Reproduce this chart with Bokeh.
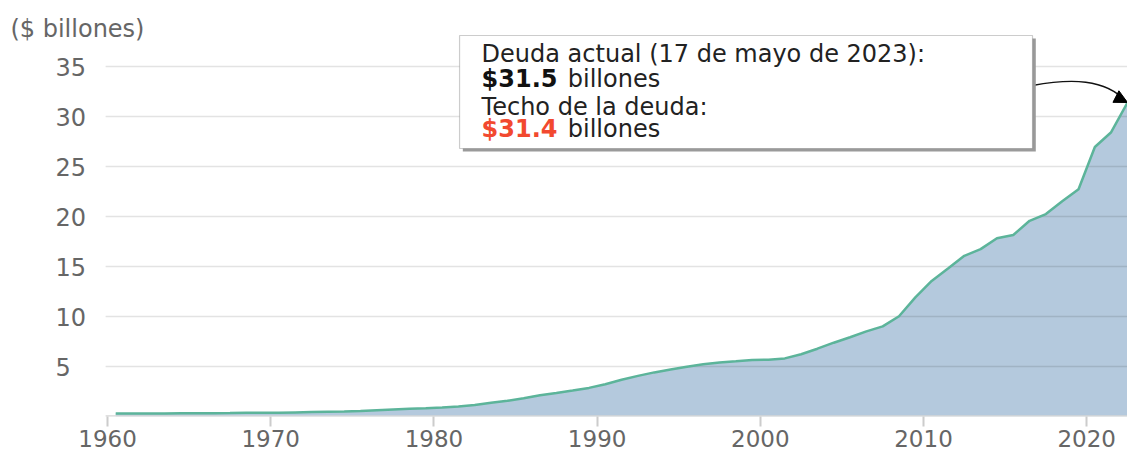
from bokeh.plotting import figure
from bokeh.models import (Range1d, FixedTicker, Label, BoxAnnotation, Arrow,
                          NormalHead, ColumnDataSource)
from bokeh.core.properties import value
from bokeh.embed import file_html
from bokeh.resources import INLINE

# ---------------- data ----------------
years = list(range(1960, 2023))
debt = [0.29, 0.29, 0.30, 0.31, 0.32, 0.32, 0.33, 0.34, 0.37, 0.37,
        0.38, 0.41, 0.44, 0.47, 0.49, 0.54, 0.63, 0.71, 0.78, 0.83,
        0.91, 1.00, 1.14, 1.37, 1.57, 1.82, 2.13, 2.35, 2.60, 2.86,
        3.23, 3.67, 4.06, 4.41, 4.69, 4.97, 5.22, 5.41, 5.53, 5.66,
        5.67, 5.81, 6.23, 6.78, 7.38, 7.93, 8.51, 9.01, 10.02, 11.91,
        13.56, 14.79, 16.07, 16.74, 17.82, 18.15, 19.57, 20.24, 21.52, 22.72,
        26.95, 28.43, 31.40]
y_ticks = [5, 10, 15, 20, 25, 30, 35]
x_ticks = [1960, 1970, 1980, 1990, 2000, 2010, 2020]
unit_label = "($ billones)"
note_title = "Deuda actual (17 de mayo de 2023):"
debt_value = "$31.5"
ceiling_title = "Techo de la deuda:"
ceiling_value = "$31.4"
unit_word = "billones"

# ---------------- style ----------------
FONT = "DejaVu Sans"
FILL = "#b4c9dd"
LINE = "#5cb49a"
GREY = "#666666"
RED = "#f2492f"

X0, X1 = 1953.44, 2022.5      # full canvas width is the frame
PLOT_LEFT = 1959.88           # where the chart area (grid) begins

x = [yr + 0.5 for yr in years]   # plotted at mid-year
src = ColumnDataSource(dict(x=x, debt=debt))

p = figure(width=1127, height=456, output_backend="svg", toolbar_location=None,
           x_range=Range1d(X0, X1), y_range=Range1d(0, 41.6),
           y_axis_location=None,
           min_border_left=0, min_border_right=0, min_border_top=0,
           min_border_bottom=40)
p.outline_line_color = None
p.background_fill_color = "white"
p.border_fill_color = "white"
p.xgrid.grid_line_color = None
p.ygrid.grid_line_color = None

# area and gridlines
p.varea(x="x", y1=0, y2="debt", source=src, fill_color=FILL)
n = len(y_ticks)
p.segment(x0=[PLOT_LEFT] * n, x1=[X1] * n, y0=y_ticks, y1=y_ticks,
          line_color="#000000", line_alpha=0.11, line_width=1.5)
p.segment(x0=[PLOT_LEFT], x1=[X1], y0=[0], y1=[0],
          line_color="#d6d6d6", line_width=2.5)
p.line(x="x", y="debt", source=src, line_color=LINE, line_width=2.5)

# y tick labels (left aligned, as in the original)
p.text(x=[1956.81] * n, y=y_ticks, text=[str(t) for t in y_ticks],
       text_align="left", text_baseline="middle",
       text_font=value(FONT), text_font_size="24px", text_color=GREY)

# x axis
p.xaxis.ticker = FixedTicker(ticks=x_ticks)
p.xaxis.axis_line_color = None
p.xaxis.major_tick_out = 10
p.xaxis.major_tick_in = 0
p.xaxis.major_tick_line_color = "#cccccc"
p.xaxis.major_tick_line_width = 2
p.xaxis.minor_tick_line_color = None
p.xaxis.major_label_standoff = 3
p.xaxis.major_label_text_font = FONT
p.xaxis.major_label_text_font_size = "23px"
p.xaxis.major_label_text_color = GREY

# unit label
p.add_layout(Label(x=1954.05, y=38.8, text=unit_label, text_baseline="middle",
                   text_font=FONT, text_font_size="24px", text_color=GREY))

# annotation box
bl, br, bt, bb = 1981.57, 2016.68, 38.1, 26.8
p.add_layout(BoxAnnotation(left=bl + 0.2, right=br + 0.2, top=bt - 0.3, bottom=bb - 0.3,
                           fill_color="#9a9a9a", fill_alpha=1, line_color=None))
p.add_layout(BoxAnnotation(left=bl, right=br, top=bt, bottom=bb,
                           fill_color="white", fill_alpha=1,
                           line_color="#555555", line_width=1.2))

tx = 1982.92
tx2 = 1988.2
for yy, txt, col, style, xx in [
        (36.3, note_title, "#222222", "normal", tx),
        (33.8, debt_value, "#111111", "bold", tx),
        (33.8, unit_word, "#222222", "normal", tx2),
        (31.0, ceiling_title, "#222222", "normal", tx),
        (28.75, ceiling_value, RED, "bold", tx),
        (28.75, unit_word, "#222222", "normal", tx2)]:
    p.add_layout(Label(x=xx, y=yy, text=txt, text_baseline="middle",
                       text_font=FONT, text_font_size="24px", text_color=col,
                       text_font_style=style))

# curved arrow from the box to the last point
x_end, y_end = x[-1], debt[-1]
p.bezier(x0=[br], y0=[33.1], x1=[x_end - 0.1], y1=[y_end + 0.1],
         cx0=[2019.0], cy0=[33.8], cx1=[2021.15], cy1=[33.8],
         line_color="#111111", line_width=1.3)
p.add_layout(Arrow(end=NormalHead(size=13, fill_color="#000000", line_color="#000000"),
                   x_start=x_end - 0.8, y_start=y_end + 0.67, x_end=x_end, y_end=y_end,
                   line_alpha=0))

open("out.html", "w").write(file_html(p, INLINE))
